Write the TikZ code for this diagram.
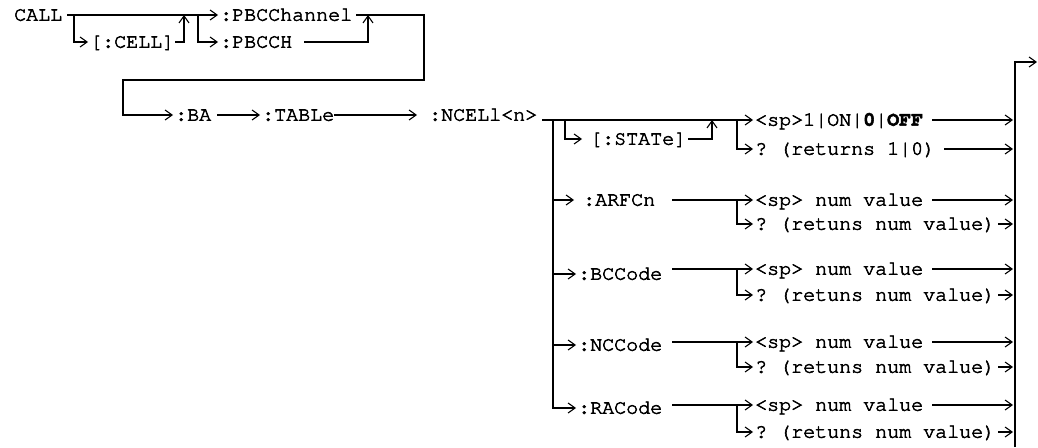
\documentclass[tikz,border=0pt]{standalone}
\usepackage[T1]{fontenc}
\usetikzlibrary{arrows.meta}
\newcommand{\courfont}{\fontencoding{T1}\fontfamily{pcr}\fontsize{20}{24}\selectfont\frenchspacing}
\newcommand{\heavytxt}[1]{\special{pdf:literal direct 2 Tr 0.55 w}#1\special{pdf:literal direct 0 Tr}}
\begin{document}
\begin{tikzpicture}[x=1pt,y=-1pt,
  lbl/.style={inner sep=0pt, anchor=west, font=\courfont, text height=11.4pt, text depth=0pt},
  ln/.style={line width=1.1pt},
  arr/.style={ln, -{Straight Barb[length=7pt,width=10pt,line width=1.1pt]}, shorten >=2pt},
  uparr/.style={ln, -{Straight Barb[length=7pt,width=10pt,line width=1.1pt]}}]
\useasboundingbox (0,0) rectangle (1038,447);
% texts
\node[lbl] (call) at (14,15) {\heavytxt{CALL}};
\node[lbl] (pbcchannel) at (220,15) {\heavytxt{:PBCChannel}};
\node[lbl] (cell) at (90,42) {\heavytxt{[:CELL]}};
\node[lbl] (pbcch) at (220,42) {\heavytxt{:PBCCH}};
\node[lbl] (ba) at (175,115) {\heavytxt{:BA}};
\node[lbl] (tab) at (262,115) {\heavytxt{:TABLe}};
\node[lbl] (ncell) at (429,115) {\heavytxt{:NCELl<n>}};
\node[lbl] (state) at (590,139) {\heavytxt{[:STATe]}};
\node[lbl] (on) at (755,120) {\heavytxt{<sp>1|ON|\textbf{0}|\textbf{OFF}}};
\node[lbl] (ret) at (755,149) {\heavytxt{? (returns 1|0)}};
\node[lbl] (arfcn) at (583,200) {\heavytxt{:ARFCn}};
\node[lbl] (bccode) at (578,274) {\heavytxt{:BCCode}};
\node[lbl] (nccode) at (578,345) {\heavytxt{:NCCode}};
\node[lbl] (racode) at (578,408) {\heavytxt{:RACode}};
\node[lbl] (spA) at (755,200) {\heavytxt{<sp> num value}};
\node[lbl] (qA) at (755,224) {\heavytxt{? (retuns num value)}};
\node[lbl] (spB) at (755,269) {\heavytxt{<sp> num value}};
\node[lbl] (qB) at (755,295) {\heavytxt{? (retuns num value)}};
\node[lbl] (spC) at (755,342) {\heavytxt{<sp> num value}};
\node[lbl] (qC) at (755,367) {\heavytxt{? (retuns num value)}};
\node[lbl] (spD) at (755,405) {\heavytxt{<sp> num value}};
\node[lbl] (qD) at (755,432) {\heavytxt{? (retuns num value)}};
% junctions
\coordinate (j1) at (74,15);
\coordinate (r1) at (184,15);
\coordinate (j2) at (198,15);
\coordinate (r2) at (368,15);
\coordinate (t1) at (424,15);
\coordinate (t2) at (424,80);
\coordinate (t3) at (123,80);
\coordinate (m0) at (542,120);
\coordinate (m1) at (553,120);
\coordinate (bs) at (565,120);
\coordinate (su) at (712,120);
\coordinate (jb) at (737,120);
\coordinate (ls) at (672,0);
\coordinate (rail) at (1015,62);
\coordinate (railbot) at (1015,447);
\coordinate (exit) at (1037,62);
% first part
\draw[arr] ([xshift=5pt]call.east) -- (pbcchannel.west);
\draw[arr] (j1) |- (cell.west);
\draw[uparr] ([xshift=1pt]cell.east) -| (r1);
\draw[arr] (j2) |- (pbcch.west);
\draw[uparr] ([xshift=12pt]pbcch.east) -| (r2);
\draw[arr] ([xshift=4pt]pbcchannel.east) -- (t1) -- (t2) -- (t3) |- (ba.west);
\draw[arr] ([xshift=6pt]ba.east) -- (tab.west);
\draw[arr] (tab.east) -- ([xshift=-10pt]ncell.west);
% NCELl part
\draw[arr] (m0) -- (on.west);
\draw[arr, shorten >=8pt] (bs) |- (state.west);
\draw[uparr] ([xshift=2pt]state.east) -| (su);
\draw[arr] (jb) |- (ret.west);
\draw[arr] (m1) |- (racode.west);
\draw[arr, shorten >=9pt] (m1 |- arfcn.west) -- (arfcn.west);
\draw[arr] (m1 |- bccode.west) -- (bccode.west);
\draw[arr] (m1 |- nccode.west) -- (nccode.west);
\foreach \s/\q in {spA/qA, spB/qB, spC/qC, spD/qD}{
  \draw[arr] (ls |- \s.west) -- (\s.west);
  \draw[arr] (jb |- \s.west) |- (\q.west);
  \draw[arr] ([xshift=9pt]\s.east) -- (rail |- \s.east);
  \draw[arr] ([xshift=3pt]\q.east) -- (rail |- \q.east);
}
\draw[arr] ([xshift=9pt]on.east) -- (rail |- on.east);
\draw[arr] ([xshift=9pt]ret.east) -- (rail |- ret.east);
% rail
\draw[arr, shorten >=0pt] (railbot) -- (rail) -- (exit);
\end{tikzpicture}
\end{document}
